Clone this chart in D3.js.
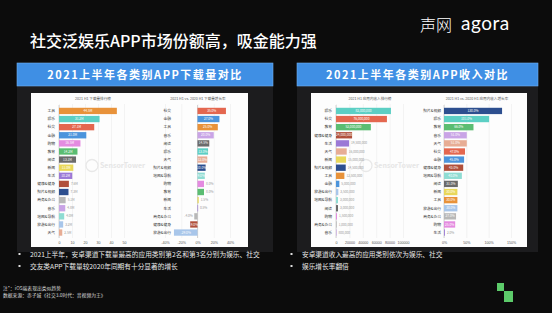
<!DOCTYPE html>
<html>
<head>
<meta charset="utf-8">
<script src="https://cdn.jsdelivr.net/npm/d3@7"></script>
<style>
  html, body { margin: 0; padding: 0; background: #0c0c0c; }
  svg { display: block; font-family: "Noto Sans CJK SC", "Noto Sans", sans-serif; }
</style>
</head>
<body>
<svg id="slide" width="552" height="313"></svg>
<script>
// ---- data ----
var dlCats = ["工具", "娱乐", "社交", "金融", "购物", "教育", "阅读", "新闻", "生活", "健康&健身", "照片&视频", "商务&办公", "音乐", "地图&导航", "旅游&出行", "天气"];
var dlValues = [44.5, 31.2, 27.1, 21.0, 16.5, 14.2, 13.1, 11.0, 10.2, 7.6, 7.3, 5.1, 4.8, 4.0, 3.2, 2.5];

var dlGrowthCats = ["社交", "金融", "工具", "音乐", "阅读", "娱乐", "天气", "照片&视频", "地图&导航", "购物", "教育", "新闻", "生活", "商务&办公", "健康&健身", "旅游&出行"];
var dlGrowthValues = [35, 27, 25, 20, 14.5, 13, 12, 10, 9, 8, 8, 1.5, 0.5, -4, -9, -29];

var revCats = ["娱乐", "社交", "教育", "健康&健身", "生活", "天气", "新闻", "照片&视频", "工具", "金融", "旅游&出行", "地图&导航", "阅读", "购物", "商务&办公", "音乐"];
var revValues = [82000, 76000, 52000, 24000, 19500, 16000, 15000, 14500, 12500, 5000, 3500, 3000, 3000, 1500, 1000, 800];

var revGrowthCats = ["照片&视频", "娱乐", "教育", "音乐", "天气", "社交", "金融", "健康&健身", "地图&导航", "阅读", "新闻", "工具", "旅游&出行", "商务&办公", "购物", "生活"];
var revGrowthValues = [130, 101, 66, 51, 51, 47, 45, 43, 40, 31, 30, 30, 30, 27, 25, 2];

var dlTicks = [0, 10, 20, 30, 40, 50];
var dlGrowthTicks = [-40, -20, 0, 20, 40];
var revTicks = [0, 20000, 40000, 60000, 80000, 100000];
var revGrowthTicks = [0, 50, 100, 150];

var catColor = {
  "工具": "#e8923a", "娱乐": "#5ccfc4", "社交": "#e4674f", "金融": "#4b94dc",
  "购物": "#e48be0", "教育": "#5bbd72", "阅读": "#6b6b6b", "新闻": "#e9d85a",
  "生活": "#9b79d6", "健康&健身": "#b0503c", "照片&视频": "#2d4f8f", "商务&办公": "#b8b8b8",
  "音乐": "#c9a4e6", "地图&导航": "#8fdcd3", "旅游&出行": "#a8c6ea", "天气": "#e7ad95"
};

var svg = d3.select("#slide");

// title + logo
svg.append("text").attr("x", 30).attr("y", 47)
  .attr("fill", "#fff").attr("font-size", 16).attr("font-weight", 500)
  .text("社交泛娱乐APP市场份额高，吸金能力强");
svg.append("text").attr("x", 420).attr("y", 31)
  .attr("fill", "#fff").attr("font-size", 16).attr("font-weight", 300)
  .text("声网");
svg.append("text").attr("x", 461).attr("y", 30)
  .attr("fill", "#fff").attr("font-size", 19).attr("font-family", "Lato, sans-serif")
  .attr("letter-spacing", 0.5).text("agora");

// panels
function panel(x0, x1, title, wx0, wx1) {
  svg.append("rect").attr("x", x0).attr("y", 63).attr("width", x1 - x0).attr("height", 189)
    .attr("fill", "#1c1c1e");
  svg.append("rect").attr("x", x0).attr("y", 63).attr("width", x1 - x0).attr("height", 23)
    .attr("fill", "#3f8fe4").attr("stroke", "#6fb0f0").attr("stroke-width", 0.6);
  svg.append("text").attr("x", (x0 + x1) / 2).attr("y", 79)
    .attr("text-anchor", "middle").attr("fill", "#fff")
    .attr("font-size", 11).attr("font-weight", 700).attr("letter-spacing", 1.5)
    .text(title);
  svg.append("rect").attr("x", wx0).attr("y", 93).attr("width", wx1 - wx0).attr("height", 154)
    .attr("fill", "#fdfdfd");
}
panel(17, 273, "2021上半年各类别APP下载量对比", 31, 248);
panel(297, 538, "2021上半年各类别APP收入对比", 311, 527);

// watermarks (kept small so they sit between the label columns)
[[92, 168], [366, 168]].forEach(function(p) {
  svg.append("circle").attr("cx", p[0]).attr("cy", p[1] - 2.5).attr("r", 6)
    .attr("fill", "none").attr("stroke", "#e8e8e8").attr("stroke-width", 1.3);
  svg.append("text").attr("x", p[0] + 8).attr("y", p[1])
    .attr("fill", "#e6e6e6").attr("font-size", 7).attr("font-weight", 700)
    .text("SensorTower");
});

// generic bar chart
function barChart(o) {
  var g = svg.append("g");
  var x = d3.scaleLinear().domain(o.domain).range(o.range);
  var y = d3.scaleBand().domain(o.cats).range([106, 237.5]).padding(0.22);

  g.append("text").attr("x", o.titleX).attr("y", 100).attr("text-anchor", "middle")
    .attr("font-size", 3.6).attr("fill", "#555").text(o.title);

  var axis = g.append("g").attr("transform", "translate(0,238)")
    .call(d3.axisBottom(x).tickValues(o.ticks).tickSize(-134).tickFormat(o.tickFormat));
  axis.select(".domain").remove();
  axis.selectAll(".tick line").attr("stroke", "#e8e8e8").attr("stroke-width", 0.5);
  axis.selectAll(".tick text").attr("font-size", 3.6).attr("fill", "#555").attr("dy", "0.9em");

  g.append("line").attr("x1", x(0)).attr("x2", x(0)).attr("y1", 105).attr("y2", 238)
    .attr("stroke", "#999").attr("stroke-width", 0.4);

  g.selectAll(".lab").data(o.cats).enter().append("text")
    .attr("x", o.labelX).attr("y", function(d) { return y(d) + y.bandwidth() / 2; })
    .attr("dy", "0.35em").attr("text-anchor", "end")
    .attr("font-size", 3.8).attr("fill", "#333").text(function(d) { return d; });

  var rows = o.cats.map(function(c, i) { return { c: c, v: o.values[i] }; });
  g.selectAll(".bar").data(rows).enter().append("rect")
    .attr("x", function(d) { return Math.min(x(0), x(d.v)); })
    .attr("y", function(d) { return y(d.c); })
    .attr("width", function(d) { return Math.max(0.6, Math.abs(x(d.v) - x(0))); })
    .attr("height", y.bandwidth())
    .attr("fill", function(d) { return catColor[d.c]; });

  g.selectAll(".val").data(rows).enter().append("text")
    .attr("y", function(d) { return y(d.c) + y.bandwidth() / 2; })
    .attr("dy", "0.35em").attr("font-size", 3.2)
    .each(function(d) {
      var w = Math.abs(x(d.v) - x(0));
      var t = d3.select(this).text(o.valueFormat(d.v));
      if (w > o.inside) {
        t.attr("x", (x(0) + x(d.v)) / 2).attr("text-anchor", "middle").attr("fill", "#fff");
      } else if (d.v < 0) {
        t.attr("x", x(d.v) - 1.5).attr("text-anchor", "end").attr("fill", "#999");
      } else {
        t.attr("x", x(d.v) + 2).attr("text-anchor", "start").attr("fill", "#999");
      }
    });
}

var pct = function(v) { return v + "%"; };

barChart({ cats: dlCats, values: dlValues, domain: [0, 50], range: [59, 124], ticks: dlTicks,
  tickFormat: d3.format("d"), valueFormat: function(v) { return v.toFixed(1) + "M"; },
  labelX: 55, title: "2021 H1 下载量排行榜", titleX: 93, inside: 11 });

barChart({ cats: dlGrowthCats, values: dlGrowthValues, domain: [-40, 40], range: [165, 230], ticks: dlGrowthTicks,
  tickFormat: pct, valueFormat: function(v) { return v.toFixed(1) + "%"; },
  labelX: 171, title: "2021 H1 vs. 2020 H1 下载量增长率", titleX: 198, inside: 7 });

barChart({ cats: revCats, values: revValues, domain: [0, 100000], range: [336, 403], ticks: revTicks,
  tickFormat: d3.format("d"), valueFormat: function(v) { return d3.format(",")(v * 1000); },
  labelX: 332, title: "2021 H1 应用内收入排行榜", titleX: 370, inside: 14 });

barChart({ cats: revGrowthCats, values: revGrowthValues, domain: [0, 150], range: [444, 511], ticks: revGrowthTicks,
  tickFormat: pct, valueFormat: function(v) { return v.toFixed(1) + "%"; },
  labelX: 441, title: "2021 H1 vs. 2020 H1 应用内收入增长率", titleX: 477, inside: 7 });

// bullets
var leftNotes = ["2021上半年，安卓渠道下载量最高的应用类别第2名和第3名分别为娱乐、社交", "交友类APP下载量较2020年同期有十分显著的增长"];
var rightNotes = ["安卓渠道收入最高的应用类别依次为娱乐、社交", "娱乐增长率翻倍"];
function notes(list, x) {
  list.forEach(function(t, i) {
    svg.append("rect").attr("x", x - 11.5).attr("y", 253 + i * 12).attr("width", 2).attr("height", 2).attr("fill", "#ddd");
    svg.append("text").attr("x", x).attr("y", 256.5 + i * 12).attr("fill", "#e8e8e8")
      .attr("font-size", 6.7).text(t);
  });
}
notes(leftNotes, 30);
notes(rightNotes, 302);

svg.append("text").attr("x", 3).attr("y", 290).attr("fill", "#ddd").attr("font-size", 4.8)
  .text("注*：iOS端表现出类似趋势");
svg.append("text").attr("x", 3).attr("y", 297).attr("fill", "#ddd").attr("font-size", 4.8)
  .text("数据来源：赤子城《社交3.0时代：音视频为王》");

// corner squares
svg.append("rect").attr("x", 497).attr("y", 283).attr("width", 7).attr("height", 8).attr("fill", "#5ccb6a");
svg.append("rect").attr("x", 504).attr("y", 291).attr("width", 9).attr("height", 11).attr("fill", "#5ccb6a");
</script>
</body>
</html>
